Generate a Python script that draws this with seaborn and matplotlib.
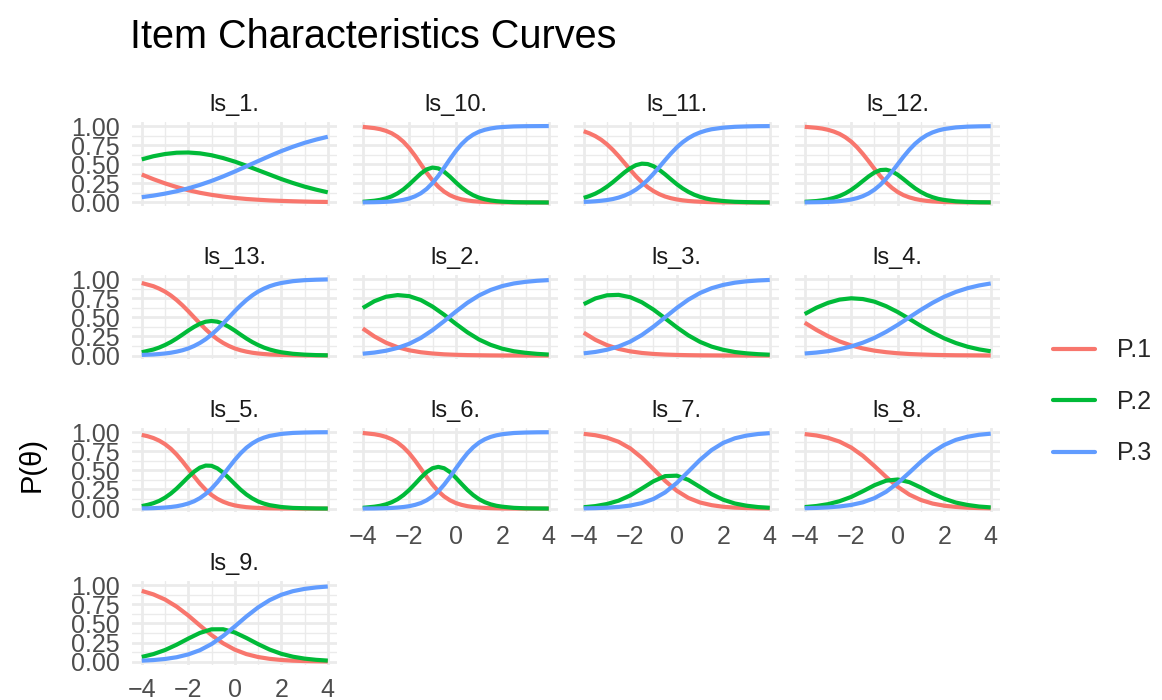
import matplotlib
matplotlib.use("Agg")
import matplotlib.pyplot as plt
from matplotlib.lines import Line2D
from matplotlib.ticker import FormatStrFormatter
import pandas as pd
import seaborn as sns

# theta grid, read every 0.5
theta = [-4.0, -3.5, -3.0, -2.5, -2.0, -1.5, -1.0, -0.5, 0.0,
         0.5, 1.0, 1.5, 2.0, 2.5, 3.0, 3.5, 4.0]

items = ["ls_1.", "ls_10.", "ls_11.", "ls_12.", "ls_13.", "ls_2.", "ls_3.",
         "ls_4.", "ls_5.", "ls_6.", "ls_7.", "ls_8.", "ls_9."]
categories = ["P.1", "P.2", "P.3"]

ls_1_p1 = [.366, .305, .250, .202, .161, .127, .100, .078, .060, .046, .036, .027, .021, .016, .012, .009, .007]
ls_1_p2 = [.564, .605, .634, .651, .654, .643, .618, .581, .535, .481, .423, .365, .307, .255, .208, .168, .133]
ls_1_p3 = [.070, .090, .116, .147, .185, .230, .282, .341, .405, .473, .541, .608, .672, .729, .780, .823, .860]

ls_10_p1 = [.989, .973, .937, .858, .711, .500, .289, .142, .063, .027, .011, .005, .002, .001, .000, .000, .000]
ls_10_p2 = [.009, .023, .054, .120, .236, .379, .457, .403, .264, .138, .063, .027, .011, .004, .002, .001, .000]
ls_10_p3 = [.002, .004, .009, .022, .053, .121, .254, .455, .673, .835, .926, .968, .987, .995, .998, .999, 1.000]

ls_11_p1 = [.932, .868, .761, .607, .428, .266, .149, .078, .040, .020, .010, .005, .002, .001, .000, .000, .000]
ls_11_p2 = [.060, .116, .207, .329, .448, .508, .475, .368, .240, .139, .074, .037, .019, .009, .005, .002, .001]
ls_11_p3 = [.008, .016, .032, .064, .124, .226, .376, .554, .720, .841, .916, .958, .979, .990, .995, .998, .999]

ls_12_p1 = [.990, .977, .951, .897, .796, .636, .440, .261, .137, .067, .031, .014, .006, .003, .001, .001, .000]
ls_12_p2 = [.009, .019, .041, .085, .165, .281, .392, .429, .363, .243, .137, .069, .033, .015, .007, .003, .002]
ls_12_p3 = [.002, .004, .008, .018, .039, .083, .168, .310, .500, .690, .832, .917, .961, .982, .992, .996, .998]

ls_13_p1 = [.949, .907, .836, .726, .581, .420, .274, .165, .093, .051, .027, .014, .008, .004, .002, .001, .001]
ls_13_p2 = [.043, .079, .138, .223, .327, .416, .452, .416, .327, .223, .138, .079, .043, .023, .012, .006, .003]
ls_13_p3 = [.008, .014, .027, .051, .093, .165, .274, .420, .581, .726, .836, .907, .949, .973, .986, .992, .996]

ls_2_p1 = [.354, .250, .168, .109, .069, .043, .027, .016, .010, .006, .004, .002, .001, .001, .000, .000, .000]
ls_2_p2 = [.622, .711, .769, .791, .777, .726, .641, .534, .416, .304, .210, .140, .090, .056, .036, .022, .013]
ls_2_p3 = [.024, .039, .063, .100, .154, .231, .332, .450, .574, .690, .786, .858, .909, .943, .964, .978, .987]

ls_3_p1 = [.299, .206, .136, .087, .055, .034, .021, .013, .008, .005, .003, .002, .001, .001, .000, .000, .000]
ls_3_p2 = [.672, .747, .788, .794, .763, .697, .601, .487, .370, .264, .179, .117, .075, .046, .029, .018, .011]
ls_3_p3 = [.029, .047, .076, .119, .182, .269, .378, .500, .622, .731, .818, .881, .924, .953, .971, .982, .989]

ls_4_p1 = [.430, .336, .254, .185, .132, .093, .064, .044, .030, .020, .014, .009, .006, .004, .003, .002, .001]
ls_4_p2 = [.543, .625, .689, .732, .749, .739, .705, .646, .569, .480, .387, .301, .225, .164, .116, .081, .056]
ls_4_p3 = [.027, .039, .057, .083, .119, .168, .231, .310, .401, .500, .599, .690, .769, .832, .881, .917, .943]

ls_5_p1 = [.964, .923, .843, .707, .520, .327, .179, .090, .042, .019, .009, .004, .002, .001, .000, .000, .000]
ls_5_p2 = [.033, .071, .143, .262, .413, .536, .560, .470, .322, .185, .094, .045, .021, .009, .005, .002, .001]
ls_5_p3 = [.003, .006, .014, .031, .067, .137, .261, .440, .636, .796, .897, .951, .977, .990, .995, .998, .999]

ls_6_p1 = [.989, .973, .938, .863, .724, .522, .313, .159, .073, .032, .014, .006, .002, .001, .000, .000, .000]
ls_6_p2 = [.010, .025, .056, .123, .244, .405, .528, .528, .405, .244, .123, .056, .025, .010, .004, .002, .001]
ls_6_p3 = [.001, .002, .006, .014, .032, .073, .159, .313, .522, .724, .863, .938, .973, .989, .995, .998, .999]

ls_7_p1 = [.978, .960, .928, .874, .788, .665, .516, .363, .234, .140, .080, .045, .024, .013, .007, .004, .002]
ls_7_p2 = [.018, .033, .060, .104, .172, .263, .358, .425, .431, .376, .283, .189, .116, .067, .038, .020, .011]
ls_7_p3 = [.003, .006, .012, .022, .040, .072, .126, .212, .335, .484, .637, .766, .860, .920, .955, .976, .987]

ls_8_p1 = [.975, .957, .926, .876, .799, .691, .557, .415, .285, .183, .112, .066, .038, .022, .012, .007, .004]
ls_8_p2 = [.020, .034, .058, .097, .153, .227, .306, .365, .381, .346, .275, .196, .129, .079, .048, .027, .016]
ls_8_p3 = [.005, .009, .016, .028, .048, .082, .137, .220, .334, .471, .613, .738, .833, .899, .940, .966, .980]

ls_9_p1 = [.926, .880, .813, .720, .604, .474, .348, .240, .157, .099, .061, .037, .022, .013, .008, .005, .003]
ls_9_p2 = [.062, .099, .152, .222, .302, .376, .423, .424, .382, .310, .230, .158, .103, .065, .040, .024, .014]
ls_9_p3 = [.013, .021, .035, .058, .095, .150, .230, .336, .461, .591, .709, .805, .875, .922, .952, .971, .983]

# extra readings between the 0.5 steps, for the steep items
theta_mid_a = [-3.25, -2.75, -2.25, -1.75, -1.25, -0.75, -0.25, 0.25, 0.75, 1.25, 1.75]
theta_mid_b = [-3.75, -3.25, -2.75, -2.25, -1.75, -1.25, -0.75, -0.25, 0.25, 0.75, 1.25]

ls_10_mid_p1 = [.959, .905, .794, .611, .389, .206, .095, .041, .017, .007, .003]
ls_10_mid_p2 = [.035, .081, .171, .308, .433, .446, .338, .196, .095, .042, .017]
ls_10_mid_p3 = [.006, .014, .035, .081, .178, .348, .567, .763, .888, .951, .980]

ls_11_mid_p1 = [.904, .821, .689, .518, .342, .201, .109, .056, .028, .014, .007]
ls_11_mid_p2 = [.085, .157, .265, .393, .489, .503, .427, .303, .185, .102, .053]
ls_11_mid_p3 = [.011, .023, .045, .090, .169, .295, .464, .641, .787, .884, .940]

ls_12_mid_p1 = [.967, .928, .853, .723, .540, .345, .192, .096, .046, .021, .010]
ls_12_mid_p2 = [.028, .060, .120, .220, .341, .424, .408, .305, .185, .098, .047]
ls_12_mid_p3 = [.005, .012, .027, .057, .119, .231, .401, .599, .769, .881, .943]

ls_13_mid_p1 = [.875, .786, .657, .500, .343, .214, .125, .069, .037, .020, .011]
ls_13_mid_p2 = [.105, .177, .274, .375, .443, .443, .375, .274, .177, .105, .059]
ls_13_mid_p3 = [.020, .037, .069, .125, .214, .343, .500, .657, .786, .875, .931]

ls_5_mid_p1 = [.947, .889, .783, .618, .421, .246, .128, .062, .029, .013, .006]
ls_5_mid_p2 = [.049, .101, .197, .337, .483, .563, .527, .398, .248, .134, .066]
ls_5_mid_p3 = [.004, .010, .021, .046, .096, .192, .345, .540, .723, .853, .928]

ls_6_mid_p1 = [.959, .907, .802, .628, .413, .227, .109, .049, .021, .009, .004]
ls_6_mid_p2 = [.037, .084, .177, .323, .478, .546, .478, .323, .177, .084, .037]
ls_6_mid_p3 = [.004, .009, .021, .049, .109, .227, .413, .628, .802, .907, .959]

curves = {
    "ls_1.": (ls_1_p1, ls_1_p2, ls_1_p3),
    "ls_10.": (ls_10_p1, ls_10_p2, ls_10_p3),
    "ls_11.": (ls_11_p1, ls_11_p2, ls_11_p3),
    "ls_12.": (ls_12_p1, ls_12_p2, ls_12_p3),
    "ls_13.": (ls_13_p1, ls_13_p2, ls_13_p3),
    "ls_2.": (ls_2_p1, ls_2_p2, ls_2_p3),
    "ls_3.": (ls_3_p1, ls_3_p2, ls_3_p3),
    "ls_4.": (ls_4_p1, ls_4_p2, ls_4_p3),
    "ls_5.": (ls_5_p1, ls_5_p2, ls_5_p3),
    "ls_6.": (ls_6_p1, ls_6_p2, ls_6_p3),
    "ls_7.": (ls_7_p1, ls_7_p2, ls_7_p3),
    "ls_8.": (ls_8_p1, ls_8_p2, ls_8_p3),
    "ls_9.": (ls_9_p1, ls_9_p2, ls_9_p3),
}

mid_curves = {
    "ls_10.": (theta_mid_a, ls_10_mid_p1, ls_10_mid_p2, ls_10_mid_p3),
    "ls_11.": (theta_mid_b, ls_11_mid_p1, ls_11_mid_p2, ls_11_mid_p3),
    "ls_12.": (theta_mid_a, ls_12_mid_p1, ls_12_mid_p2, ls_12_mid_p3),
    "ls_13.": (theta_mid_a, ls_13_mid_p1, ls_13_mid_p2, ls_13_mid_p3),
    "ls_5.": (theta_mid_b, ls_5_mid_p1, ls_5_mid_p2, ls_5_mid_p3),
    "ls_6.": (theta_mid_a, ls_6_mid_p1, ls_6_mid_p2, ls_6_mid_p3),
}

rows = []
for item in items:
    for cat, values in zip(categories, curves[item]):
        for t, p in zip(theta, values):
            rows.append({"item": item, "category": cat, "theta": t, "prob": p})
for item, (t_mid, *mid_values) in mid_curves.items():
    for cat, values in zip(categories, mid_values):
        for t, p in zip(t_mid, values):
            rows.append({"item": item, "category": cat, "theta": t, "prob": p})
df = pd.DataFrame(rows)

colors = ["#F8766D", "#00BA38", "#619CFF"]
grid_color = "#EBEBEB"
line_w = 3.0

sns.set_theme(style="white")
plt.rcParams["font.family"] = ["Liberation Sans", "DejaVu Sans"]

g = sns.relplot(
    data=df,
    x="theta",
    y="prob",
    hue="category",
    hue_order=categories,
    palette=colors,
    col="item",
    col_order=items,
    col_wrap=4,
    kind="line",
    sort=True,
    linewidth=line_w,
    errorbar=None,
    legend=False,
    height=2,
    aspect=2.4,
)

fig = g.figure
fig.set_size_inches(11.62, 7.0)
fig.set_dpi(100)
fig.subplots_adjust(left=0.114, right=0.8606, top=0.8254, bottom=0.0493,
                    wspace=0.08, hspace=0.82)

g.set_axis_labels("", "")
g.set_titles("{col_name}", size=17, pad=8, color="#1A1A1A")

n = len(items)
for i, ax in enumerate(g.axes.flat):
    for side in ax.spines.values():
        side.set_visible(False)
    for line in ax.get_lines():
        line.set_linewidth(line_w)
        line.set_solid_capstyle("butt")
    ax.set_xlim(-4.4, 4.4)
    ax.set_ylim(-0.05, 1.05)
    ax.set_xticks([-4, -2, 0, 2, 4])
    ax.set_xticks([-3, -1, 1, 3], minor=True)
    ax.set_yticks([0, 0.25, 0.5, 0.75, 1.0])
    ax.set_yticks([0.125, 0.375, 0.625, 0.875], minor=True)
    ax.yaxis.set_major_formatter(FormatStrFormatter("%.2f"))
    ax.set_axisbelow(True)
    ax.grid(which="major", color=grid_color, linewidth=2.0)
    ax.grid(which="minor", color=grid_color, linewidth=1.0)
    is_left = i % 4 == 0
    is_bottom = i + 4 >= n
    ax.tick_params(which="both", length=0, labelsize=18, labelcolor="#4D4D4D",
                   pad=9, labelleft=is_left, labelbottom=is_bottom)

fig.text(0.112, 0.931, "Item Characteristics Curves", fontsize=28.5,
         ha="left", va="baseline", color="black")
fig.text(0.027, 0.336, "P(θ)", rotation=90, fontsize=21,
         ha="center", va="center", color="black")

handles = [Line2D([0], [0], color=c, linewidth=line_w) for c in colors]
fig.legend(handles, categories, loc="center left",
           bbox_to_anchor=(0.906, 0.426), frameon=False, fontsize=18,
           handlelength=1.7, handletextpad=0.85, labelspacing=1.1,
           borderpad=0, borderaxespad=0)

fig.savefig("out.png", dpi=100, facecolor="white")
